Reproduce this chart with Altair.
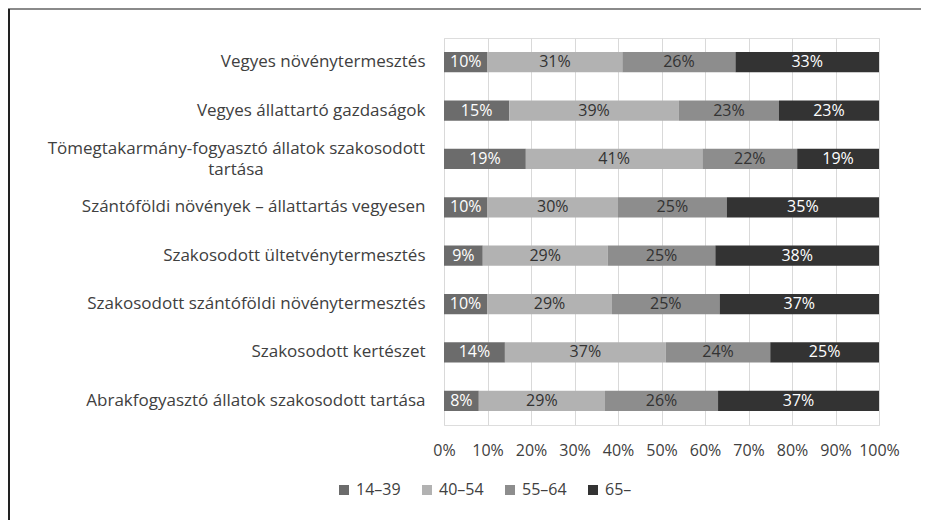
import altair as alt
import pandas as pd

cats = [
    "Vegyes növénytermesztés",
    "Vegyes állattartó gazdaságok",
    "Tömegtakarmány-fogyasztó állatok szakosodott tartása",
    "Szántóföldi növények – állattartás vegyesen",
    "Szakosodott ültetvénytermesztés",
    "Szakosodott szántóföldi növénytermesztés",
    "Szakosodott kertészet",
    "Abrakfogyasztó állatok szakosodott tartása",
]
groups = ["14–39", "40–54", "55–64", "65–"]
v_14_39 = [10, 15, 19, 10, 9, 10, 14, 8]
v_40_54 = [31, 39, 41, 30, 29, 29, 37, 29]
v_55_64 = [26, 23, 22, 25, 25, 25, 24, 26]
v_65 = [33, 23, 19, 35, 38, 37, 25, 37]
colors = ["#6c6c6c", "#b2b2b2", "#8d8d8d", "#333333"]
ticks = [0, 0.1, 0.2, 0.3, 0.4, 0.5, 0.6, 0.7, 0.8, 0.9, 1.0]

LONG = cats[2]
long_lines = ["Tömegtakarmány-fogyasztó állatok szakosodott", "tartása"]
vals = [v_14_39, v_40_54, v_55_64, v_65]
rows = []
for i, c in enumerate(cats):
    for j, g in enumerate(groups):
        rows.append(dict(cat=c, grp=g, ord=j, val=vals[j][i]))
df = pd.DataFrame(rows)

FONT = "Open Sans"
YFS = 17
FS = 16

yenc = alt.Y(
    "cat:N",
    sort=cats,
    title=None,
    scale=alt.Scale(paddingInner=0.58, paddingOuter=0.29),
    axis=alt.Axis(
        domain=False, ticks=False, labelPadding=19, labelLimit=500,
        labelFontSize=YFS, labelFont=FONT, labelColor="#404040",
        labelExpr=f"datum.value == '{LONG}' ? '' : datum.value",
    ),
)

base = (
    alt.Chart(df)
    .transform_stack(stack="val", groupby=["cat"], as_=["x0", "x1"], offset="normalize",
                     sort=[alt.SortField("ord")])
    .transform_calculate(mid="(datum.x0 + datum.x1) / 2", lab="datum.val + '%'")
)

bars = base.mark_bar().encode(
    y=yenc,
    x=alt.X("x0:Q", title=None, scale=alt.Scale(domain=[0, 1], nice=False),
            axis=alt.Axis(format="%", values=ticks, grid=True, gridColor="#d9d9d9",
                          domain=False, ticks=False, labelPadding=17, labelFontSize=FS,
                          labelFont=FONT, labelColor="#404040", labelFlush=False)),
    x2="x1:Q",
    color=alt.Color("grp:N", scale=alt.Scale(domain=groups, range=colors),
                    legend=alt.Legend(title=None, orient="none", direction="horizontal",
                                      legendX=-108, legendY=444, symbolType="square",
                                      symbolSize=100, symbolStrokeWidth=0,
                                      labelFontSize=FS, labelFont=FONT, labelColor="#404040",
                                      columnPadding=18, labelOffset=4)),
    order=alt.Order("ord:Q"),
)

texts = base.mark_text(fontSize=FS, font=FONT).encode(
    y=alt.Y("cat:N", sort=cats),
    x=alt.X("mid:Q"),
    text="lab:N",
    color=alt.condition(alt.FieldOneOfPredicate(field="grp", oneOf=["14–39", "65–"]),
                        alt.value("#ffffff"), alt.value("#333333")),
)

ldf = pd.DataFrame({"cat": [LONG], "l1": [long_lines[0]], "l2": [long_lines[1]]})
line1 = alt.Chart(ldf).mark_text(
    fontSize=YFS, font=FONT, color="#404040", align="right", dy=-10
).encode(y=alt.Y("cat:N", sort=cats), x=alt.value(-19), text="l1:N")
line2 = alt.Chart(ldf).mark_text(
    fontSize=YFS, font=FONT, color="#404040", align="center", dy=11
).encode(y=alt.Y("cat:N", sort=cats), x=alt.value(-208), text="l2:N")

frame = alt.Chart(pd.DataFrame({"a": [0]}))
top_line = frame.mark_rule(color="#8a8a8a", strokeWidth=2).encode(
    x=alt.value(-440), x2=alt.value(500), y=alt.value(-29))
left_line = frame.mark_rule(color="#222222", strokeWidth=2).encode(
    x=alt.value(-435), y=alt.value(-29), y2=alt.value(500))

chart = (
    alt.layer(bars, texts, line1, line2, top_line, left_line)
    .properties(width=435, height=387,
                padding={"left": 436, "top": 30, "right": 42, "bottom": 95},
                autosize=alt.AutoSizeParams(type="none"))
    .configure_view(stroke=None)
    .configure(background="white")
)

chart.save("out.html", embed_options={"renderer": "svg", "actions": False})
